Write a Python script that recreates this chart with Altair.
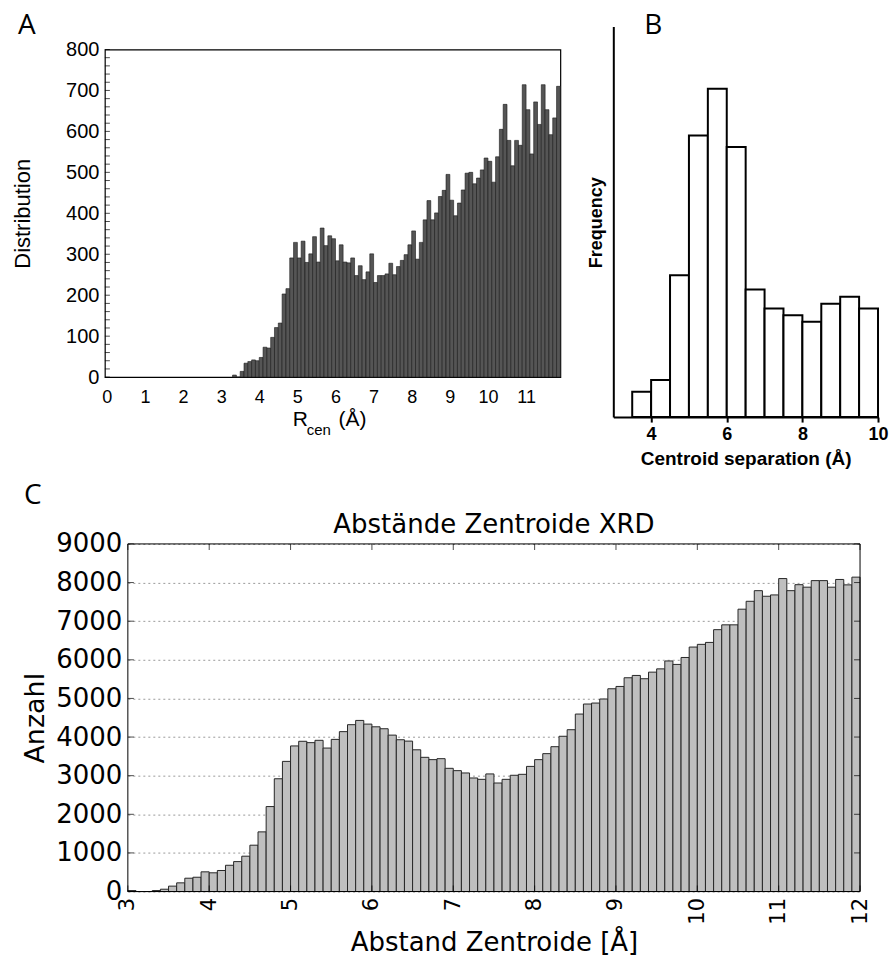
import altair as alt
import pandas as pd

# ---------------- data ----------------
# Panel A: distribution of R_cen, 0.1 Å bins starting at 3.3 Å
a_first_bin = 3.3
a_bin_width = 0.1
a_values = [5, 0, 14, 34, 38, 42, 40, 48, 73, 71,
            97, 121, 132, 203, 216, 291, 329, 291, 332, 280,
            301, 343, 281, 364, 321, 345, 338, 284, 323, 281,
            279, 291, 248, 272, 238, 257, 301, 231, 248, 248,
            252, 278, 250, 270, 285, 299, 323, 357, 288, 329,
            384, 431, 384, 401, 441, 456, 495, 432, 394, 425,
            457, 498, 500, 472, 486, 506, 535, 527, 476, 538,
            605, 666, 578, 516, 578, 566, 714, 653, 545, 672,
            617, 714, 653, 592, 633, 710]
a_xticks = [0, 1, 2, 3, 4, 5, 6, 7, 8, 9, 10, 11]
a_yticks = [0, 100, 200, 300, 400, 500, 600, 700, 800]
a_minor_ticks = list(range(0, 801, 20))
a_xdomain = [-0.05, 11.9]
a_ydomain = [0, 800]

# Panel B: centroid separation histogram, 0.5 Å bins (relative frequency)
b_bin_starts = [3.5, 4.0, 4.5, 5.0, 5.5, 6.0, 6.5, 7.0, 7.5, 8.0, 8.5, 9.0, 9.5]
b_bin_width = 0.5
b_heights = [76, 111, 426, 846, 986, 811, 383, 326, 306, 286, 340, 361, 326]
b_xticks = [4, 6, 8, 10]

# Panel C: Abstände Zentroide XRD, 0.1 Å bins from 3.0 Å
c_first_bin = 3.0
c_bin_width = 0.1
c_values = [25, 0, 0, 25, 60, 140, 225, 345, 370, 510,
            485, 545, 680, 775, 915, 1200, 1545, 2200, 2920, 3370,
            3770, 3890, 3855, 3915, 3715, 3940, 4140, 4320, 4430, 4335,
            4265, 4215, 4050, 3930, 3895, 3670, 3475, 3415, 3440, 3190,
            3130, 3070, 2940, 2905, 3045, 2810, 2905, 3010, 3035, 3240,
            3415, 3570, 3750, 4020, 4190, 4595, 4855, 4880, 4985, 5250,
            5310, 5535, 5595, 5510, 5680, 5765, 5970, 5880, 6060, 6330,
            6400, 6450, 6780, 6905, 6905, 7310, 7515, 7790, 7645, 7680,
            8103, 7790, 7945, 7880, 8050, 8050, 7880, 8080, 7940, 8140]
c_xticks = [3, 4, 5, 6, 7, 8, 9, 10, 11, 12]
c_yticks = [0, 1000, 2000, 3000, 4000, 5000, 6000, 7000, 8000, 9000]
c_xdomain = [3, 12]
c_ydomain = [0, 9000]

# ---------------- helpers ----------------
FA = "Liberation Sans"
FB = "Liberation Sans"
FC = "DejaVu Sans"
FL = "Open Sans"


def label(text, x, y, size, font, weight="normal", align="left"):
    return alt.Chart(pd.DataFrame({"t": [text]})).mark_text(
        align=align, baseline="alphabetic", font=font, fontSize=size,
        fontWeight=weight, color="black"
    ).encode(text="t:N", x=alt.value(x), y=alt.value(y))


def spacer(x1, y1, x2, y2):
    # invisible rule used only to fix the layout bounds of a panel
    return alt.Chart(pd.DataFrame({"s": [0]})).mark_rule(opacity=0).encode(
        x=alt.value(x1), x2=alt.value(x2), y=alt.value(y1), y2=alt.value(y2)
    )


# ---------------- panel A ----------------
WA, HA = 456, 328
dfA = pd.DataFrame({
    "x0": [round(a_first_bin + a_bin_width * i, 2) for i in range(len(a_values))],
    "v": a_values,
})
dfA["x1"] = dfA["x0"] + a_bin_width

xA = alt.X("x0:Q", scale=alt.Scale(domain=a_xdomain, nice=False, zero=False),
           axis=alt.Axis(values=a_xticks, title=None, labelFont=FA, labelFontSize=18,
                         labelColor="black", tickSize=0, domain=False, grid=False,
                         labelPadding=11, labelFlush=False, labelOverlap=False))
yA = alt.Y("v:Q", scale=alt.Scale(domain=a_ydomain, nice=False),
           axis=alt.Axis(values=a_yticks, title="Distribution", titleFont=FA,
                         titleFontSize=22, titleFontWeight="normal", titleColor="black",
                         titlePadding=31, labelFont=FA, labelFontSize=20,
                         labelColor="black", tickSize=0, domain=False, grid=False,
                         labelPadding=6, labelFlush=False))

barsA = alt.Chart(dfA).mark_rect(fill="#555555", stroke="#1a1a1a", strokeWidth=0.6).encode(
    x=xA, x2="x1:Q", y=yA, y2=alt.datum(0),
)
ticksA = alt.Chart(pd.DataFrame({"v": a_minor_ticks})).mark_tick(
    orient="horizontal", size=5, thickness=1, color="black"
).encode(y=yA, x=alt.value(2.5))

panelA = alt.layer(
    barsA, ticksA,
    label("A", -87, -15, 28, FL),
    label("R", 188, 377, 21, FA),
    label("cen", 202, 386, 15, FA),
    label("(Å)", 234, 377, 21, FA),
    spacer(-104, -48, 456, -48),
).properties(width=WA, height=HA,
             view=alt.ViewBackground(stroke="black", strokeWidth=1.2, fill="white"))

# ---------------- panel B ----------------
LIFT_B = 23             # axis of B reaches 23 px higher than A's frame
WB, HB = 265, 368
dfB = pd.DataFrame({"x0": b_bin_starts, "f": b_heights})
dfB["x1"] = dfB["x0"] + b_bin_width

barsB = alt.Chart(dfB).mark_rect(fill="white", stroke="black", strokeWidth=2).encode(
    x=alt.X("x0:Q", scale=alt.Scale(domain=[3, 10], nice=False, zero=False), axis=alt.Axis(
        values=b_xticks, title="Centroid separation (Å)", titleFont=FB, titleFontSize=19,
        titleFontWeight="bold", titleColor="black", titlePadding=6,
        labelFont=FB, labelFontSize=18, labelFontWeight="bold", labelColor="black",
        tickSize=5, tickWidth=2, tickColor="black", domainColor="black", domainWidth=2,
        labelPadding=3, grid=False, labelFlush=False, labelOverlap=False)),
    x2="x1:Q",
    y=alt.Y("f:Q", scale=alt.Scale(domain=[0, 1173], range=[HB, -LIFT_B], nice=False),
            axis=alt.Axis(title="Frequency", titleFont=FB, titleFontSize=18,
                          titleFontWeight="bold", titleColor="black", titlePadding=8,
                          titleY=173, labels=False, ticks=False,
                          domainColor="black", domainWidth=2, grid=False)),
    y2=alt.datum(0),
)

panelB = alt.layer(
    barsB,
    label("B", 31, -16, 28, FL),
    spacer(-51, -20, -51, 431),
).properties(width=WB, height=HB,
             view=alt.ViewBackground(stroke="transparent", fill="white"))

# ---------------- panel C ----------------
SHIFT_C = 23            # plot area of C starts 23 px right of panel A's
WC, HC = 733 + SHIFT_C, 348
dfC = pd.DataFrame({
    "x0": [round(c_first_bin + c_bin_width * i, 2) for i in range(len(c_values))],
    "n": c_values,
})
dfC["x1"] = dfC["x0"] + c_bin_width

xC = alt.X("x0:Q", scale=alt.Scale(domain=c_xdomain, range=[SHIFT_C, WC], nice=False, zero=False),
           axis=alt.Axis(values=c_xticks, labelAngle=270, labelAlign="right",
                         labelBaseline="middle", labelFont=FC, labelFontSize=21,
                         labelColor="black", tickSize=0, domain=False, labelPadding=6,
                         title="Abstand Zentroide [Å]", titleFont=FC, titleFontSize=26,
                         titleFontWeight="normal", titleColor="black", titlePadding=5,
                         titleX=SHIFT_C + 733 / 2,
                         grid=False, labelFlush=False, labelOverlap=False))
yC = alt.Y("n:Q", scale=alt.Scale(domain=c_ydomain, nice=False),
           axis=alt.Axis(values=c_yticks, format="d", labelFont=FC, labelFontSize=26,
                         labelColor="black", tickSize=0, domain=False, labelPadding=6,
                         title="Anzahl", titleFont=FC, titleFontSize=27,
                         titleFontWeight="normal", titleColor="black", titlePadding=6,
                         grid=True, gridDash=[2, 3], gridColor="#9a9a9a", gridWidth=1,
                         labelFlush=False, labelOverlap=False, offset=-SHIFT_C))

barsC = alt.Chart(dfC).mark_rect(fill="#bfbfbf", stroke="#262626", strokeWidth=1).encode(
    x=xC, x2="x1:Q", y=yC, y2=alt.datum(0),
)
frameC = alt.Chart(pd.DataFrame({"x0": [c_xdomain[0]], "x1": [c_xdomain[1]],
                                 "n": [c_ydomain[1]], "nb": [c_ydomain[0]]})).mark_rect(
    fill="transparent", stroke="black", strokeWidth=1
).encode(x=xC, x2="x1:Q", y=yC, y2="nb:Q")
ytC = pd.DataFrame({"n": c_yticks})
xtC = pd.DataFrame({"x0": c_xticks})
tickL = alt.Chart(ytC).mark_tick(orient="horizontal", size=6, thickness=1, color="black").encode(
    y=yC, x=alt.value(SHIFT_C + 3))
tickR = alt.Chart(ytC).mark_tick(orient="horizontal", size=6, thickness=1, color="black").encode(
    y=yC, x=alt.value(WC - 3))
tickT = alt.Chart(xtC).mark_tick(orient="vertical", size=6, thickness=1, color="black").encode(
    x=xC, y=alt.value(3))
tickBt = alt.Chart(xtC).mark_tick(orient="vertical", size=6, thickness=1, color="black").encode(
    x=xC, y=alt.value(HC - 3))

panelC = alt.layer(
    barsC, frameC, tickL, tickR, tickT, tickBt,
    label("C", -81, -40, 28, FL),
    label("Abstände Zentroide XRD", SHIFT_C + 733 / 2, -11, 26, FC, align="center"),
    spacer(-104, -62, -100, -62),
).properties(width=WC, height=HC,
             view=alt.ViewBackground(stroke="transparent", fill="white"))

top = alt.concat(panelA, panelB, columns=2, spacing=0, align="none")
chart = alt.concat(top, panelC, columns=1, spacing=0, align="none").properties(
    padding={"left": 0, "top": 0, "right": 0, "bottom": 0},
    background="white",
)

chart.save("out.html", embed_options={"renderer": "svg", "actions": False})
